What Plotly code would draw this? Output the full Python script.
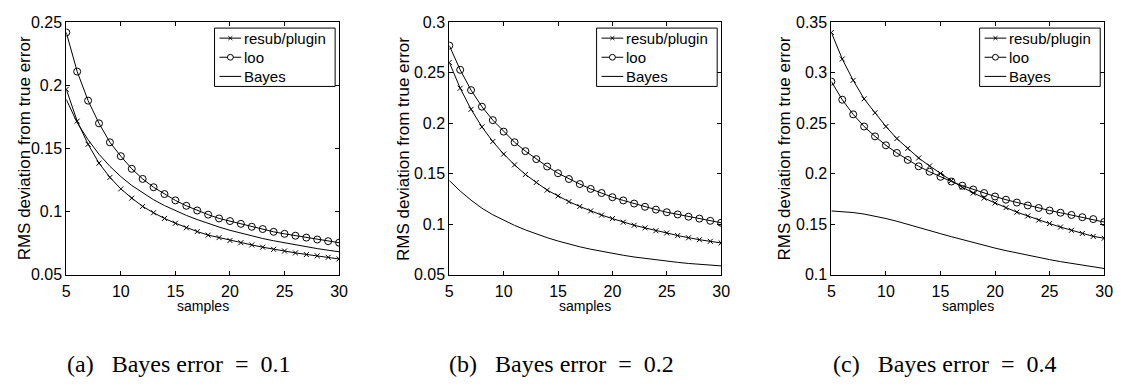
import plotly.graph_objects as go

W, H = 1128, 391

samples = list(range(5, 31))

# Panel (a): Bayes error = 0.1
resub_a = [0.197, 0.1718, 0.1534, 0.1385, 0.1272, 0.1181, 0.1108, 0.1042, 0.0992, 0.0947,
           0.0909, 0.0873, 0.0843, 0.0815, 0.0795, 0.0772, 0.0755, 0.0737, 0.0719, 0.0702,
           0.0689, 0.0674, 0.0661, 0.0651, 0.0639, 0.0626]
loo_a = [0.242, 0.211, 0.188, 0.170, 0.155, 0.144, 0.134, 0.126, 0.1194, 0.114,
         0.109, 0.1047, 0.101, 0.0977, 0.0947, 0.0926, 0.0904, 0.0881, 0.0863, 0.0841,
         0.0825, 0.081, 0.0795, 0.078, 0.0767, 0.0755]
bayes_a = [0.189, 0.1705, 0.157, 0.1455, 0.136, 0.1278, 0.1208, 0.1148, 0.1095, 0.1049,
           0.1008, 0.0971, 0.0938, 0.0907, 0.0879, 0.0853, 0.0830, 0.0808, 0.0788, 0.0770,
           0.0753, 0.0737, 0.0722, 0.0708, 0.0695, 0.0683]

# Panel (b): Bayes error = 0.2
resub_b = [0.2604, 0.2348, 0.2139, 0.1965, 0.182, 0.1696, 0.1589, 0.1494, 0.1415, 0.1339,
           0.1282, 0.1225, 0.1177, 0.1133, 0.1092, 0.1057, 0.1022, 0.0991, 0.0965, 0.0937,
           0.0915, 0.0889, 0.0867, 0.0848, 0.0832, 0.0816]
loo_b = [0.277, 0.253, 0.2329, 0.2165, 0.2032, 0.1918, 0.1813, 0.1725, 0.1646, 0.1573,
         0.1506, 0.1449, 0.1399, 0.1351, 0.131, 0.1269, 0.1237, 0.1206, 0.1174, 0.1146,
         0.1120, 0.1098, 0.1076, 0.1057, 0.1035, 0.1016]
bayes_b = [0.1434, 0.133, 0.124, 0.116, 0.1095, 0.104, 0.0990, 0.0945, 0.0905, 0.0868,
           0.0835, 0.0805, 0.0778, 0.0754, 0.0732, 0.0712, 0.0694, 0.0677, 0.0662, 0.0648,
           0.0635, 0.0624, 0.0613, 0.0604, 0.0596, 0.0589]

# Panel (c): Bayes error = 0.4
resub_c = [0.340, 0.3137, 0.2926, 0.2743, 0.2605, 0.2469, 0.2349, 0.2252, 0.2157, 0.2078,
           0.2003, 0.1933, 0.1867, 0.1810, 0.176, 0.1712, 0.1665, 0.1621, 0.1583, 0.1542,
           0.1508, 0.1473, 0.1441, 0.141, 0.1381, 0.1363]
loo_c = [0.2914, 0.2734, 0.2589, 0.2469, 0.2371, 0.2283, 0.2207, 0.2138, 0.2075, 0.2021,
         0.1971, 0.1924, 0.1883, 0.1845, 0.181, 0.1776, 0.1744, 0.1716, 0.1687, 0.1662,
         0.1637, 0.1615, 0.1593, 0.1571, 0.1552, 0.1523]
bayes_c = [0.1633, 0.1627, 0.1617, 0.1602, 0.1583, 0.1558, 0.1531, 0.1502, 0.1471, 0.1440,
           0.1408, 0.1378, 0.1348, 0.1319, 0.1291, 0.1265, 0.1240, 0.1216, 0.1193, 0.1171,
           0.1151, 0.1131, 0.1113, 0.1095, 0.1078, 0.1063]

x_ticks = [5, 10, 15, 20, 25, 30]
y_ticks_a = [0.05, 0.1, 0.15, 0.2, 0.25]
y_ticks_b = [0.05, 0.1, 0.15, 0.2, 0.25, 0.3]
y_ticks_c = [0.1, 0.15, 0.2, 0.25, 0.3, 0.35]
y_ranges = [[0.05, 0.25], [0.05, 0.3], [0.1, 0.35]]

series_names = ["resub/plugin", "loo", "Bayes"]
x_title = "samples"
y_title = "RMS deviation from true error"
NB = "\u00a0"
captions = [
    f"(a){NB*3}Bayes error{NB*2}={NB*2}0.1",
    f"(b){NB*3}Bayes error{NB*2}={NB*2}0.2",
    f"(c){NB*3}Bayes error{NB*2}={NB*2}0.4",
]

panels = [
    (resub_a, loo_a, bayes_a, y_ticks_a),
    (resub_b, loo_b, bayes_b, y_ticks_b),
    (resub_c, loo_c, bayes_c, y_ticks_c),
]

# pixel layout
panel_px = [(63, 339), (450.5, 725.5), (837, 1113)]
top_px, bot_px = 15, 279
ytitle_px = [21, 404, 790]
caption_px = [177, 564, 951]


def px_x(p):
    return p / W


def px_y(p):
    return 1 - p / H


FONT = "Liberation Sans, Arial, Helvetica, sans-serif"
fig = go.Figure()
annotations = []
shapes = []


def pline(x0, y0, x1, y1):
    shapes.append(dict(type="line", xref="paper", yref="paper",
                       x0=px_x(x0), y0=px_y(y0), x1=px_x(x1), y1=px_y(y1),
                       line=dict(color="black", width=1), layer="above"))


for i, (rs, lo, ba, yt) in enumerate(panels):
    n = "" if i == 0 else str(i + 1)
    xa, ya = "x" + n, "y" + n
    fig.add_trace(go.Scatter(
        x=samples, y=rs, mode="lines+markers", name=series_names[0],
        line=dict(color="black", width=1),
        marker=dict(symbol="x-thin", size=5, line=dict(color="black", width=1)),
        xaxis=xa, yaxis=ya, showlegend=False))
    fig.add_trace(go.Scatter(
        x=samples, y=lo, mode="lines+markers", name=series_names[1],
        line=dict(color="black", width=1),
        marker=dict(symbol="circle-open", size=7, color="black", line=dict(color="black", width=1)),
        xaxis=xa, yaxis=ya, showlegend=False))
    fig.add_trace(go.Scatter(
        x=samples, y=ba, mode="lines", name=series_names[2],
        line=dict(color="black", width=1),
        xaxis=xa, yaxis=ya, showlegend=False))

    l, r = panel_px[i]
    axis_common = dict(
        showline=True, linecolor="black", linewidth=1, mirror="allticks",
        ticks="inside", ticklen=4, tickcolor="black", tickwidth=1,
        showgrid=False, zeroline=False,
        tickfont=dict(family=FONT, size=16, color="black"),
    )
    fig.update_layout(**{
        "xaxis" + n: dict(domain=[px_x(l), px_x(r)], range=[5, 30], anchor=ya,
                          tickvals=x_ticks, ticktext=[str(v) for v in x_ticks],
                          ticklabelstandoff=2, **axis_common),
        "yaxis" + n: dict(domain=[px_y(bot_px), px_y(top_px)], range=y_ranges[i], anchor=xa,
                          tickvals=yt, ticktext=[f"{v:g}" for v in yt], **axis_common),
    })

    # legend box (manual, MATLAB style)
    shapes.append(dict(type="rect", xref="paper", yref="paper",
                       x0=px_x(r - 126), x1=px_x(r - 4), y0=px_y(82), y1=px_y(21),
                       line=dict(color="black", width=1), fillcolor="white", layer="above"))
    rows = [31.5, 51.5, 71.5]
    for k, name in enumerate(series_names):
        yc = rows[k]
        pline(r - 121, yc, r - 99, yc)
        annotations.append(dict(x=px_x(r - 98), y=px_y(yc), xref="paper", yref="paper",
                                text=name, showarrow=False, xanchor="left", yanchor="middle",
                                font=dict(family=FONT, size=15, color="black")))
    mx = r - 110
    pline(mx - 2, rows[0] - 2, mx + 2, rows[0] + 2)
    pline(mx - 2, rows[0] + 2, mx + 2, rows[0] - 2)
    shapes.append(dict(type="circle", xref="paper", yref="paper",
                       x0=px_x(mx - 3), x1=px_x(mx + 3), y0=px_y(rows[1] + 3), y1=px_y(rows[1] - 3),
                       line=dict(color="black", width=1), fillcolor="white", layer="above"))

    annotations.append(dict(x=px_x((l + r) / 2), y=px_y(312), xref="paper", yref="paper",
                            text=x_title, showarrow=False, xanchor="center", yanchor="middle",
                            font=dict(family=FONT, size=14, color="black")))
    annotations.append(dict(x=px_x(ytitle_px[i]), y=px_y((top_px + bot_px) / 2), xref="paper", yref="paper",
                            text=y_title, showarrow=False, textangle=-90,
                            xanchor="center", yanchor="middle",
                            font=dict(family=FONT, size=17, color="black")))
    annotations.append(dict(x=px_x(caption_px[i]), y=px_y(372), xref="paper", yref="paper",
                            text=captions[i], showarrow=False, xanchor="center", yanchor="middle",
                            font=dict(family="Liberation Serif, DejaVu Serif, serif", size=24, color="black")))

fig.update_layout(
    width=W, height=H, margin=dict(l=0, r=0, t=0, b=0),
    paper_bgcolor="white", plot_bgcolor="white",
    showlegend=False, annotations=annotations, shapes=shapes,
)

fig.write_html("out.html")
